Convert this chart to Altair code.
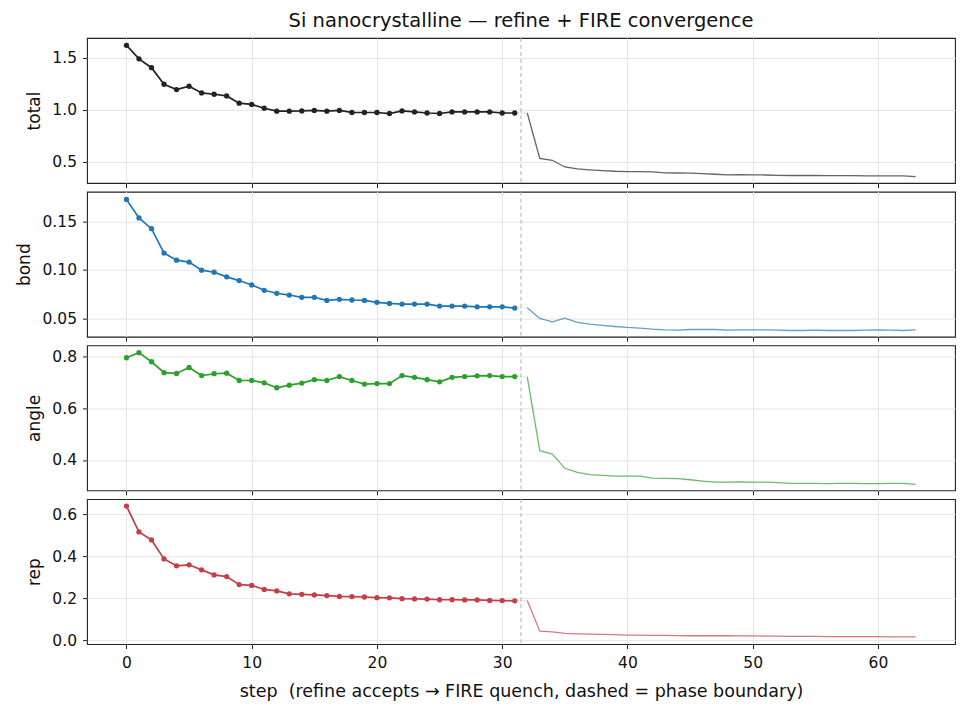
import altair as alt
import pandas as pd

# ---- data ----
steps_refine = list(range(0, 32))
steps_fire = list(range(32, 64))

total_refine = [1.62, 1.49, 1.405, 1.246, 1.195, 1.227, 1.163, 1.15, 1.134, 1.064,
                1.052, 1.016, 0.988, 0.988, 0.99, 0.995, 0.988, 0.995, 0.976, 0.975,
                0.975, 0.965, 0.99, 0.98, 0.97, 0.965, 0.98, 0.98, 0.98, 0.98,
                0.97, 0.97]
total_fire = [0.97, 0.535, 0.516, 0.452, 0.433, 0.424, 0.417, 0.411, 0.408, 0.407,
              0.405, 0.395, 0.394, 0.393, 0.388, 0.382, 0.376, 0.377, 0.376, 0.375,
              0.372, 0.37, 0.37, 0.37, 0.368, 0.368, 0.368, 0.367, 0.367, 0.367,
              0.366, 0.36]

bond_refine = [0.1725, 0.1535, 0.1424, 0.1173, 0.110, 0.108, 0.0997, 0.0976, 0.0928, 0.089,
               0.0845, 0.079, 0.0759, 0.0741, 0.0717, 0.0717, 0.0686, 0.0697, 0.069, 0.0686,
               0.0666, 0.0655, 0.0648, 0.0648, 0.0648, 0.0627, 0.0627, 0.0627, 0.062, 0.062,
               0.062, 0.0607]
bond_fire = [0.061, 0.050, 0.0465, 0.0503, 0.0459, 0.0441, 0.0428, 0.0417, 0.0407, 0.040,
             0.0389, 0.0383, 0.038, 0.0386, 0.0386, 0.0386, 0.038, 0.0383, 0.0383, 0.0383,
             0.038, 0.0376, 0.0376, 0.038, 0.0376, 0.0376, 0.0376, 0.038, 0.0383, 0.038,
             0.0376, 0.0383]

angle_refine = [0.7935, 0.813, 0.778, 0.736, 0.733, 0.756, 0.725, 0.732, 0.734, 0.706,
                0.706, 0.697, 0.678, 0.688, 0.696, 0.709, 0.706, 0.721, 0.706, 0.692,
                0.694, 0.694, 0.725, 0.718, 0.709, 0.701, 0.718, 0.721, 0.724, 0.725,
                0.721, 0.721]
angle_fire = [0.72, 0.436, 0.423, 0.368, 0.352, 0.344, 0.341, 0.338, 0.338, 0.338,
              0.33, 0.329, 0.328, 0.324, 0.319, 0.315, 0.315, 0.316, 0.315, 0.315,
              0.313, 0.31, 0.31, 0.31, 0.309, 0.31, 0.31, 0.309, 0.309, 0.31,
              0.31, 0.306]

rep_refine = [0.638, 0.515, 0.477, 0.387, 0.354, 0.359, 0.335, 0.311, 0.303, 0.265,
              0.261, 0.242, 0.235, 0.221, 0.219, 0.216, 0.213, 0.209, 0.208, 0.206,
              0.203, 0.202, 0.198, 0.197, 0.196, 0.193, 0.193, 0.192, 0.192, 0.19,
              0.189, 0.188]
rep_fire = [0.19, 0.044, 0.04, 0.033, 0.031, 0.03, 0.029, 0.027, 0.025, 0.025,
            0.024, 0.024, 0.023, 0.022, 0.022, 0.022, 0.022, 0.021, 0.021, 0.02,
            0.02, 0.019, 0.019, 0.019, 0.018, 0.018, 0.018, 0.018, 0.018, 0.017,
            0.017, 0.017]

metrics = ["total", "bond", "angle", "rep"]
refine = {"total": total_refine, "bond": bond_refine, "angle": angle_refine, "rep": rep_refine}
fire = {"total": total_fire, "bond": bond_fire, "angle": angle_fire, "rep": rep_fire}
colors = {"total": "#222222", "bond": "#1f77b4", "angle": "#2ca02c", "rep": "#c44049"}
y_domains = {"total": [0.298, 1.69], "bond": [0.0312, 0.1805], "angle": [0.283, 0.841], "rep": [-0.0176, 0.671]}
y_ticks = {"total": [0.5, 1.0, 1.5], "bond": [0.05, 0.10, 0.15], "angle": [0.4, 0.6, 0.8], "rep": [0.0, 0.2, 0.4, 0.6]}
y_formats = {"total": ".1f", "bond": ".2f", "angle": ".1f", "rep": ".1f"}
x_ticks = [0, 10, 20, 30, 40, 50, 60]
boundary = [31.5]
title_text = "Si nanocrystalline — refine + FIRE convergence"
x_title = "step \u00a0(refine accepts → FIRE quench, dashed = phase boundary)"

FONT = "DejaVu Sans"
W, H = 868, 145


def panel(name, last):
    col = colors[name]
    xscale = alt.Scale(domain=[-3.15, 66.15], nice=False, zero=False)
    yscale = alt.Scale(domain=y_domains[name], nice=False, zero=False)
    if last:
        xaxis = alt.Axis(values=x_ticks, labels=True, title=x_title, format="d",
                         labelFontSize=15.5, titleFontSize=17.5, titlePadding=11, labelPadding=7)
    else:
        xaxis = alt.Axis(values=x_ticks, labels=False, title=None)
    yaxis = alt.Axis(values=y_ticks[name], format=y_formats[name], title=name,
                     labelFontSize=15.5, titleFontSize=17, titlePadding=8, labelPadding=6)
    x = alt.X("step:Q", scale=xscale, axis=xaxis)
    y = alt.Y("value:Q", scale=yscale, axis=yaxis)

    df_r = pd.DataFrame({"step": steps_refine, "value": refine[name]})
    df_f = pd.DataFrame({"step": steps_fire, "value": fire[name]})
    df_c = pd.DataFrame({"step": [steps_refine[-1], steps_fire[0]],
                         "value": [refine[name][-1], fire[name][0]]})
    df_b = pd.DataFrame({"step": boundary})

    rule = alt.Chart(df_b).mark_rule(color="#b0b0b0", strokeDash=[4, 3], strokeWidth=1).encode(x=x)
    conn = alt.Chart(df_c).mark_line(color=col, strokeWidth=1, strokeDash=[1, 2], opacity=0.45).encode(x=x, y=y)
    fline = alt.Chart(df_f).mark_line(color=col, strokeWidth=1.3, opacity=0.7).encode(x=x, y=y)
    rline = alt.Chart(df_r).mark_line(color=col, strokeWidth=1.7).encode(x=x, y=y)
    rpts = alt.Chart(df_r).mark_circle(color=col, size=28, opacity=1).encode(x=x, y=y)
    ch = alt.layer(rule, conn, fline, rline, rpts).properties(width=W, height=H)
    return ch


panels = [panel(m, i == len(metrics) - 1) for i, m in enumerate(metrics)]
panels[0] = panels[0].properties(
    title=alt.TitleParams(text=title_text, fontSize=19.5, font=FONT, fontWeight="normal",
                          anchor="middle", frame="group", offset=6, color="#111")
)

chart = alt.vconcat(*panels, spacing=8.7, bounds="flush").properties(
    padding={"left": 15, "top": 10, "right": 8, "bottom": 5},
    background="white",
).configure_view(
    stroke="#222222", strokeWidth=1.1
).configure_axis(
    domain=False, grid=True, gridColor="#e6e6e6", gridWidth=1,
    tickColor="#222222", tickSize=4.5, tickWidth=1,
    labelFont=FONT, titleFont=FONT, labelColor="#111", titleColor="#111",
    titleFontWeight="normal",
)

chart.save("out.html", embed_options={"renderer": "svg", "actions": False})
